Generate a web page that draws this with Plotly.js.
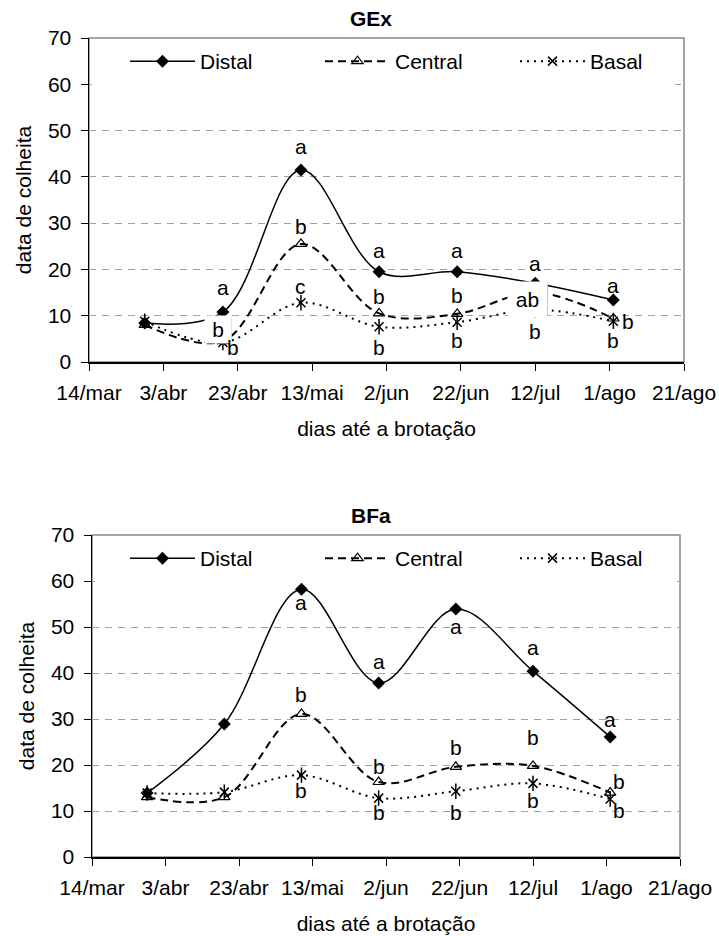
<!DOCTYPE html>
<html><head><meta charset="utf-8">
<script src="https://cdn.plot.ly/plotly-3.0.1.min.js"></script>
<style>html,body{margin:0;padding:0;background:#fff}#chart{width:719px;height:936px}</style>
</head><body><div id="chart"></div>
<script>
// ---- data ----
const dates = ['2007-03-29','2007-04-19','2007-05-10','2007-05-31','2007-06-21','2007-07-12','2007-08-02'];
const seriesNames = ['Distal','Central','Basal'];
const gexDistal  = [8.4, 10.8, 41.5, 19.5, 19.5, 17.0, 13.4];
const gexCentral = [8.0, 4.5, 25.5, 10.5, 10.4, 15.0, 9.4];
const gexBasal   = [8.8, 4.2, 12.8, 7.6, 8.6, 11.3, 8.8];
const bfaDistal  = [13.9, 28.9, 58.2, 37.8, 53.9, 40.4, 26.1];
const bfaCentral = [13.0, 13.0, 31.1, 16.3, 19.6, 19.8, 14.0];
const bfaBasal   = [13.9, 14.1, 17.8, 12.8, 14.3, 16.0, 12.6];
const tickDates  = ['2007-03-14','2007-04-03','2007-04-23','2007-05-13','2007-06-02','2007-06-22','2007-07-12','2007-08-01','2007-08-21'];
const tickLabels = ['14/mar','3/abr','23/abr','13/mai','2/jun','22/jun','12/jul','1/ago','21/ago'];
const chartTitles = ['GEx','BFa'];
// significance letters: [series index, point index, letter]
const gexLetters = [[0,1,'a'],[1,1,'b'],[2,1,'b'],
  [0,2,'a'],[1,2,'b'],[2,2,'c'],
  [0,3,'a'],[1,3,'b'],[2,3,'b'],
  [0,4,'a'],[1,4,'b'],[2,4,'b'],
  [0,5,'a'],[1,5,'ab'],[2,5,'b'],
  [0,6,'a'],[1,6,'b'],[2,6,'b']];
const bfaLetters = [[0,2,'a'],[1,2,'b'],[2,2,'b'],
  [0,3,'a'],[1,3,'b'],[2,3,'b'],
  [0,4,'a'],[1,4,'b'],[2,4,'b'],
  [0,5,'a'],[1,5,'b'],[2,5,'b'],
  [0,6,'a'],[1,6,'b'],[2,6,'b']];

// ---- placement (pixel offsets of letters from their point: dx, dy-down) ----
const gexPlace = [[0,-25],[-5,-11.5],[10,5],
  [0,-23],[0,-17],[0,-16],
  [0,-21],[0,-17],[0,21],
  [0,-21],[0,-18],[0,18],
  [0,-20],[-7.5,6.5],[0,22],
  [0,-14],[15,3],[0,19]];
const bfaPlace = [[0,13],[0,-19],[0,15],
  [0,-22],[0,-16],[0,14],
  [0,17],[0,-19],[0,21],
  [0,-24],[0,-28],[0,17],
  [0,-17],[9,-11],[9,11]];

const W = 719, H = 936;
const FS = 21;
const FONT = 'Liberation Sans, Arial, sans-serif';
const charts = [
  {vals:[gexDistal,gexCentral,gexBasal], letters:gexLetters, place:gexPlace, left:89, right:684, top:38, bottom:362, xa:'x', ya:'y', leg:'legend', titleY:18, coverY0:0.82},
  {vals:[bfaDistal,bfaCentral,bfaBasal], letters:bfaLetters, place:bfaPlace, left:92, right:680, top:535, bottom:857, xa:'x2', ya:'y2', leg:'legend2', titleY:515, coverY0:0.852}
];
const styles = [
  {line:{color:'#000',width:1.5,dash:'solid'}, marker:{symbol:'diamond',size:10,color:'#000'}},
  {line:{color:'#000',width:2,dash:'8px,5px'}, marker:{symbol:'triangle-up-open',size:10,color:'#000',line:{width:1.2,color:'#000'}}},
  {line:{color:'#000',width:2,dash:'2px,5px'}, marker:{symbol:'x-thin-open',size:9,color:'#000',line:{width:1.5,color:'#000'}}}
];

const traces = [], annotations = [], shapes = [];
const layout = {width:W, height:H, margin:{l:0,r:0,t:0,b:0,autoexpand:false}, paper_bgcolor:'#fff', plot_bgcolor:'rgba(0,0,0,0)',
  font:{family:FONT,size:FS,color:'#000'}, showlegend:true, annotations, shapes};

charts.forEach((c, ci) => {
  const sfx = ci === 0 ? '' : '2';
  c.vals.forEach((v, si) => {
    traces.push({type:'scatter', mode:'lines+markers', x:dates, y:v, name:seriesNames[si],
      xaxis:c.xa, yaxis:c.ya, legend:c.leg, line:Object.assign({shape:'spline',smoothing:1}, styles[si].line),
      marker:styles[si].marker, hoverinfo:'skip'});
    if (si === 2) {
      traces.push({type:'scatter', mode:'markers', x:dates, y:v, xaxis:c.xa, yaxis:c.ya, legend:c.leg, showlegend:false,
        marker:{symbol:'line-ns-open',size:11,color:'#000',line:{width:1.5,color:'#000'}}, hoverinfo:'skip'});
    }
  });
  const dom = [c.left/W, c.right/W];
  const ydom = [1 - c.bottom/H, 1 - c.top/H];
  layout['xaxis'+sfx] = {domain:dom, anchor:'y'+sfx, type:'date', range:[tickDates[0], tickDates[tickDates.length-1]],
    tickmode:'array', tickvals:tickDates, ticktext:tickLabels, ticks:'outside', ticklen:7, tickcolor:'#000', tickwidth:1,
    showline:true, linecolor:'#000', linewidth:1.5, showgrid:false, zeroline:false, fixedrange:true, automargin:false,
    ticklabelstandoff:4, tickfont:{size:FS},
    title:{text:'dias até a brotação', font:{size:FS}, standoff:18}};
  layout['yaxis'+sfx] = {domain:ydom, anchor:'x'+sfx, range:[0,70], dtick:10, ticks:'outside', ticklen:7, tickcolor:'#000',
    showline:true, linecolor:'#000', linewidth:1.5, showgrid:true, gridcolor:'#a0a0a0', griddash:'7px,6px', gridwidth:1,
    zeroline:false, fixedrange:true, automargin:false, tickfont:{size:FS}, ticklabelstandoff:5,
    title:{text:'data de colheita', font:{size:FS}, standoff:10}};
  // frame (top/right grey border)
  shapes.push({type:'rect', xref:'x'+sfx+' domain', yref:'y'+sfx+' domain', x0:0, x1:1, y0:0, y1:1,
    line:{color:'#888',width:1.5}, layer:'below'});
  // white legend backing over grid
  shapes.push({type:'rect', xref:'x'+sfx+' domain', yref:'y'+sfx+' domain', x0:0.005, x1:0.985, y0:c.coverY0, y1:0.99,
    line:{width:0}, fillcolor:'#fff', layer:'above'});
  layout[c.leg] = {orientation:'h', x:125/W, y:1-(c.top+3)/H, xanchor:'left', yanchor:'top',
    bgcolor:'rgba(0,0,0,0)', font:{size:FS}, itemwidth:65, entrywidth:115, entrywidthmode:'pixels', tracegroupgap:0};
  annotations.push({text:'<b>'+chartTitles[ci]+'</b>', xref:'paper', yref:'paper', x:371/W, y:1-c.titleY/H,
    showarrow:false, font:{size:FS}, xanchor:'center', yanchor:'middle'});
  c.letters.forEach((L, k) => {
    const [si, pi, txt] = L; const [dx, dy] = c.place[k];
    const a = {text:txt, x:dates[pi], y:c.vals[si][pi], xref:c.xa, yref:c.ya, showarrow:false,
      xshift:dx, yshift:-dy, xanchor:'center', yanchor:'middle', font:{size:FS}};
    if (ci === 0 && si === 1 && (pi === 1 || pi === 5)) {
      a.bgcolor = '#fff';
      if (pi === 1) { a.width = 24; a.height = 25; } else { a.width = 37; a.height = 33; }
      // partial grey border (right and bottom edges)
      const b = pi === 1 ? {l:-18, r:8, t:24, btm:-1, col:'#aaa'} : {l:-27, r:12, t:10, btm:-23, col:'#888'};
      const base = {xref:c.xa, yref:c.ya, xsizemode:'pixel', ysizemode:'pixel', xanchor:dates[pi], yanchor:c.vals[si][pi],
        type:'line', line:{color:b.col,width:1.5}, layer:'above'};
      shapes.push(Object.assign({}, base, {x0:b.r, x1:b.r, y0:b.btm, y1:b.t}));
      shapes.push(Object.assign({}, base, {x0:b.l, x1:b.r, y0:b.btm, y1:b.btm}));
    }
    annotations.push(a);
  });
});

Plotly.newPlot('chart', traces, layout, {staticPlot:true, displayModeBar:false});
</script></body></html>
